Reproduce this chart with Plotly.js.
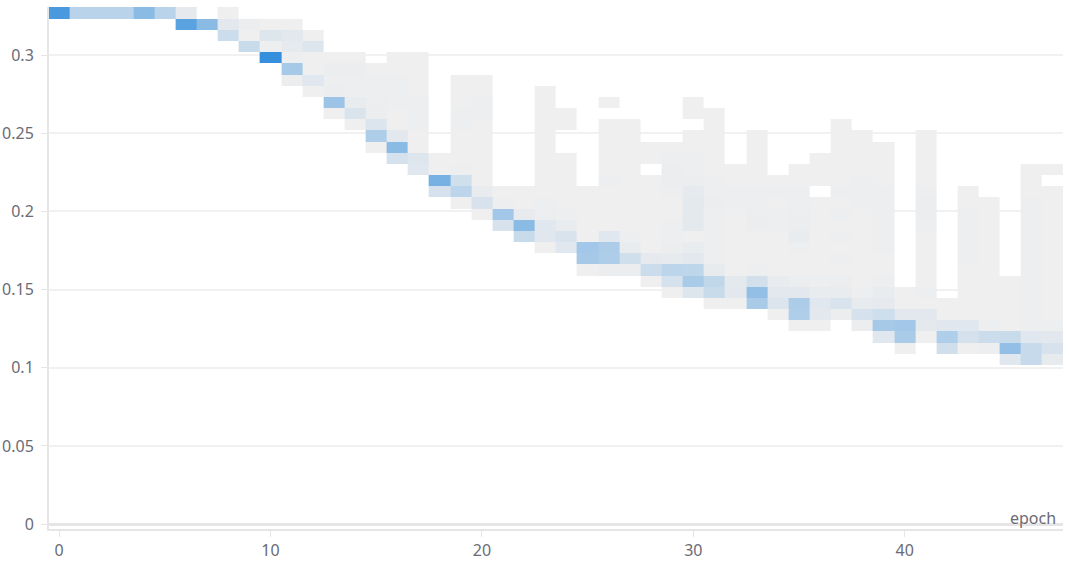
<!DOCTYPE html>
<html><head><meta charset="utf-8">
<script src="https://cdn.plot.ly/plotly-3.0.1.min.js"></script>
<style>html,body{margin:0;padding:0;background:#fff}#c{width:1069px;height:561px}</style>
</head><body><div id="c"></div>
<script>
const epochs = [0,1,2,3,4,5,6,7,8,9,10,11,12,13,14,15,16,17,18,19,20,21,22,23,24,25,26,27,28,29,30,31,32,33,34,35,36,37,38,39,40,41,42,43,44,45,46,47];
const lossBins = [.3270,.3196,.3124,.3053,.2982,.2910,.2839,.2768,.2696,.2625,.2553,.2482,.2411,.2339,.2268,.2197,.2125,.2054,.1982,.1911,.1840,.1768,.1697,.1626,.1554,.1483,.1411,.1340,.1269,.1197,.1126,.1055];
const firstRow = [0,0,0,0,0,0,0,1,0,1,1,1,2,4,4,5,4,4,13,6,6,16,16,7,9,16,8,10,12,12,8,9,14,11,15,14,13,10,11,12,25,11,26,16,17,24,14,14];
const density = [
 [90],[30],[30],[30],[55],[30],[6,80],[55],[1,8,20],[3,1,22],[1,10,2,100],[1,8,6,2,40,3],
 [1,10,1,1,9,1],[1,3,2,3,45,1],[1,3,2,2,4,12,1],[1,2,2,3,3,11,36,1],[1,1,2,2,2,1,1,8,55,15],
 [1,1,1,1,2,2,2,1,1,10,9],[1,1,65,15],[1,1,1,2,2,1,1,1,2,18,28,1],[1,1,2,2,1,1,1,1,1,1,4,14,1],
 [1,2,42,14],[1,1,5,55,22],[1,1,1,1,1,1,1,1,1,1,2,3,9,9,1],[1,1,0,0,1,1,1,1,1,2,4,13,9],
 [1,1,1,1,1,42,40,1],[1,0,1,1,1,1,1,2,1,1,1,1,9,37,36,3],[1,1,1,1,1,1,1,1,1,1,2,4,18,3],
 [1,1,0,1,1,1,1,1,1,1,6,20,1],[1,2,3,3,2,1,1,2,2,3,5,28,15,1],
 [1,1,0,1,1,2,2,3,6,7,7,7,1,4,8,27,38,10],[1,1,1,1,1,1,2,2,3,2,2,2,2,2,5,26,22,1],
 [1,1,2,2,1,1,1,1,1,1,7,8,1],[1,1,1,1,1,2,2,3,3,1,1,1,2,16,50,38],[1,2,1,2,2,1,1,1,1,4,8,11,1],
 [1,1,2,2,3,3,4,2,1,1,3,8,37,35,1],[1,1,1,0,1,1,1,1,1,1,1,2,4,9,8,1],
 [1,1,1,1,1,1,2,1,2,1,2,1,2,1,3,4,13,3],[1,1,1,1,2,2,2,1,1,1,1,1,1,1,2,5,15,3],
 [1,1,1,1,2,2,2,2,2,2,1,1,2,4,6,19,40,9],[1,1,8,42,38,1],[1,1,1,1,1,2,3,3,2,1,1,1,1,1,2,1,8,7,1],
 [1,1,9,35,17],[1,1,2,2,2,2,2,1,1,1,1,1,9,15,1],[1,1,1,1,1,1,1,1,1,1,1,2,20,2],
 [1,1,1,1,1,22,50,9],[1,1,1,2,2,2,2,2,2,2,2,2,2,2,2,9,23,23,1],[1,0,1,1,1,1,1,1,1,1,1,1,1,1,2,8,14,5]
];
const yTicks = [0,0.05,0.1,0.15,0.2,0.25,0.3];
const xTicks = [0,10,20,30,40];

const z = lossBins.map((_, k) => epochs.map((_, e) => {
  const v = density[e][k - firstRow[e]];
  return v ? v : null;
}));
const font = '"Noto Sans", sans-serif', ink = '#6b6b75';
Plotly.newPlot('c', [{
  type: 'heatmap', x: epochs, y: lossBins, z: z, zmin: 1, zmax: 100, zsmooth: false,
  colorscale: [[0, '#efefef'], [1, '#368fdd']], showscale: false, hoverinfo: 'skip'
}], {
  width: 1069, height: 561, margin: {l: 49, r: 6, t: 7, b: 32},
  paper_bgcolor: '#fff', plot_bgcolor: '#fff', showlegend: false,
  xaxis: {range: [-0.48, 47.49], tickmode: 'array', tickvals: xTicks, ticks: 'outside', ticklen: 6, tickwidth: 1,
    tickcolor: '#e6e6e6', showgrid: false, zeroline: false, showline: true, linecolor: '#e6e6e6', linewidth: 2,
    layer: 'below traces', tickfont: {family: font, size: 16, color: ink}},
  yaxis: {range: [-0.0031, 0.3307], tickmode: 'array', tickvals: yTicks, ticktext: yTicks.map(String), ticks: 'outside', ticklen: 6, tickwidth: 1,
    tickcolor: '#e6e6e6', showgrid: true, gridcolor: '#f1f1f1', gridwidth: 1.5, zeroline: true, zerolinecolor: '#e6e6e6', zerolinewidth: 3,
    showline: true, linecolor: '#e6e6e6', linewidth: 2, layer: 'below traces', ticklabelstandoff: 4, tickfont: {family: font, size: 16, color: ink}},
  annotations: [{text: 'epoch', xref: 'paper', yref: 'paper', x: 1, y: 0.03, xshift: -5, yshift: -5, xanchor: 'right', yanchor: 'middle',
    showarrow: false, font: {family: font, size: 16, color: ink}}]
}, {displayModeBar: false});
</script></body></html>
